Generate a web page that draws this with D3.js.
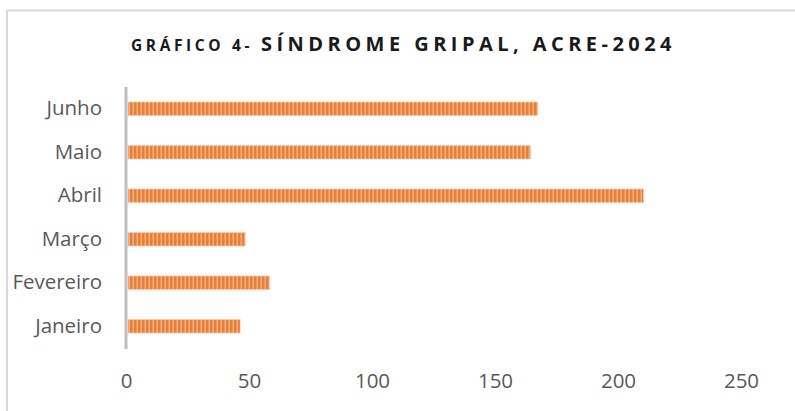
<!DOCTYPE html>
<html>
<head>
<meta charset="utf-8">
<script src="https://cdn.jsdelivr.net/npm/d3@7"></script>
<style>
  body { margin: 0; background: #fff; }
  svg { display: block; font-family: "Open Sans", sans-serif; }
</style>
</head>
<body>
<div id="chart"></div>
<script>
const months = ['Janeiro', 'Fevereiro', 'Março', 'Abril', 'Maio', 'Junho'];
const cases = [46, 58, 48, 210, 164, 167];
const xTicks = [0, 50, 100, 150, 200, 250];
const titleSmall = 'GRÁFICO 4-';
const titleBig = 'SÍNDROME GRIPAL, ACRE-2024';

const widthSvg = 795;
const heightSvg = 411;
const margin = { top: 87, right: 54, bottom: 63, left: 126 };
const widthChart = widthSvg - margin.left - margin.right;
const heightChart = heightSvg - margin.top - margin.bottom;

const svg = d3.select('#chart').append('svg')
  .attr('width', widthSvg)
  .attr('height', heightSvg);

// stripe pattern like the office "dark vertical" fill
const defs = svg.append('defs');
const pat = defs.append('pattern')
  .attr('id', 'stripes')
  .attr('patternUnits', 'userSpaceOnUse')
  .attr('width', 4)
  .attr('height', 4);
pat.append('rect').attr('width', 4).attr('height', 4).attr('fill', '#f4b085');
pat.append('rect').attr('width', 2.5).attr('height', 4).attr('fill', '#ed7d31');

// chart area border
svg.append('rect')
  .attr('x', 7).attr('y', 10.5)
  .attr('width', 820).attr('height', 440)
  .attr('fill', 'none')
  .attr('stroke', '#d9d9d9')
  .attr('stroke-width', 2);

// title
const titleY = 51;
const t1 = svg.append('text')
  .attr('x', 131).attr('y', titleY)
  .attr('font-size', 15.5).attr('font-weight', 700)
  .attr('fill', '#1a1a1a')
  .text(titleSmall);
const t2 = svg.append('text')
  .attr('x', 261).attr('y', titleY)
  .attr('font-size', 20).attr('font-weight', 700)
  .attr('fill', '#1a1a1a')
  .text(titleBig);

const fitSpacing = (sel, target) => {
  const n = sel.text().length;
  const w = sel.node().getComputedTextLength();
  sel.attr('letter-spacing', (target - w) / n);
};
fitSpacing(t1, 122);
fitSpacing(t2, 415);

const x = d3.scaleLinear()
  .domain([0, 250])
  .range([0, widthChart]);

const y = d3.scaleBand()
  .domain(months)
  .range([heightChart, 0])
  .paddingInner(0.69)
  .paddingOuter(0.345);

const g = svg.append('g')
  .attr('transform', `translate(${margin.left},${margin.top})`);

// bars
g.append('g').selectAll('rect')
  .data(months)
  .join('rect')
  .attr('x', x(0) + 2)
  .attr('y', d => y(d))
  .attr('width', (d, i) => x(cases[i]) - x(0) - 1)
  .attr('height', y.bandwidth())
  .attr('fill', 'url(#stripes)')
  .attr('stroke', '#f8cbad')
  .attr('stroke-width', 0.6);

// category axis
const axisY = d3.axisLeft(y).tickSize(0).tickPadding(24);
const gy = g.append('g').call(axisY);
gy.select('.domain').remove();
gy.selectAll('text')
  .attr('font-family', '"Open Sans", sans-serif')
  .attr('font-size', 20.5)
  .attr('fill', '#595959');

// value axis labels
const axisX = d3.axisBottom(x).tickValues(xTicks).tickSize(0).tickPadding(25);
const gx = g.append('g')
  .attr('transform', `translate(0,${heightChart})`)
  .call(axisX);
gx.select('.domain').remove();
gx.selectAll('text')
  .attr('font-family', '"Open Sans", sans-serif')
  .attr('font-size', 20.5)
  .attr('fill', '#595959');

// vertical axis line
g.append('line')
  .attr('x1', x(0)).attr('x2', x(0))
  .attr('y1', 0).attr('y2', heightChart + 1)
  .attr('stroke', '#bfbfbf')
  .attr('stroke-width', 3);
</script>
</body>
</html>
